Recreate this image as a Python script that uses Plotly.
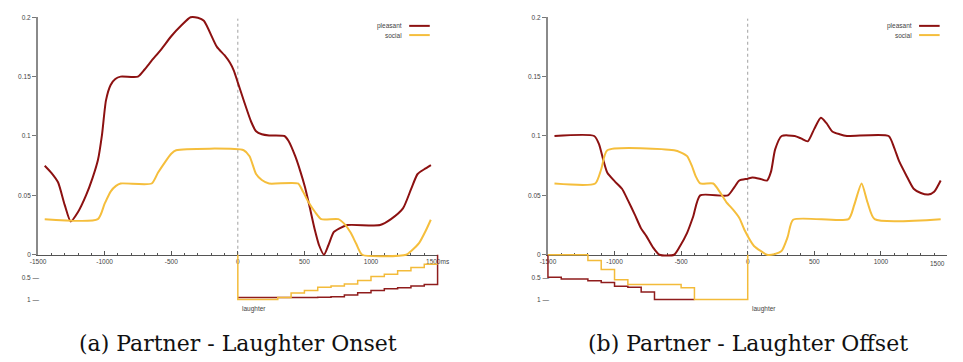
import plotly.graph_objects as go

# ---------------- data ----------------
# (a) Partner - Laughter Onset : smoothed curves
onset_pleasant_x = [-1450, -1400, -1350, -1300, -1255, -1200, -1140, -1090, -1050, -1020, -990, -955, -920,
                    -880, -750, -700, -650, -575, -500, -425, -355, -300, -255, -157, -100, -59, -30, 0,
                    50, 100, 137, 180, 235, 350, 380, 431, 470, 504, 540, 578, 610, 647, 680, 720, 760,
                    823, 1068, 1150, 1240, 1300, 1350, 1400, 1450]
onset_pleasant_y = [0.075, 0.069, 0.061, 0.042, 0.028, 0.036, 0.050, 0.065, 0.080, 0.101, 0.130, 0.143, 0.148,
                    0.150, 0.150, 0.156, 0.163, 0.173, 0.184, 0.193, 0.200, 0.1995, 0.197, 0.175, 0.168, 0.1616,
                    0.155, 0.145, 0.128, 0.112, 0.104, 0.1015, 0.1005, 0.100, 0.096, 0.083, 0.070, 0.057, 0.040,
                    0.021, 0.008, 0.0, 0.008, 0.019, 0.022, 0.025, 0.025, 0.030, 0.039, 0.055, 0.068, 0.072, 0.0755]
onset_social_x = [-1450, -1051, -1000, -954, -915, -880, -647, -600, -549, -500, -463, 44, 88, 137, 180, 235,
                  451, 490, 529, 580, 627, 755, 800, 848, 890, 934, 1265, 1300, 1362, 1410, 1449]
onset_social_y = [0.030, 0.030, 0.043, 0.0534, 0.058, 0.060, 0.060, 0.069, 0.0776, 0.085, 0.088, 0.088, 0.083,
                  0.068, 0.063, 0.060, 0.060, 0.053, 0.0446, 0.036, 0.030, 0.030, 0.026, 0.0185, 0.009, 0.0,
                  0.0, 0.003, 0.010, 0.020, 0.0295]

# (b) Partner - Laughter Offset : smoothed curves
offset_pleasant_x = [-1451, -1153, -1116, -1085, -1054, -1000, -944, -900, -847, -800, -761, -710, -663, -553,
                     -510, -455, -410, -357, -149, -100, -63, 0, 35, 90, 145, 175, 206, 255, 353, 400, 451,
                     500, 549, 590, 635, 690, 745, 1058, 1100, 1136, 1190, 1246, 1300, 1356, 1400, 1449]
offset_pleasant_y = [0.100, 0.100, 0.093, 0.080, 0.069, 0.062, 0.0556, 0.046, 0.0336, 0.022, 0.0157, 0.006,
                     0.0, 0.0, 0.007, 0.0185, 0.032, 0.050, 0.050, 0.057, 0.0625, 0.064, 0.065, 0.064, 0.0625,
                     0.070, 0.0887, 0.100, 0.100, 0.098, 0.0955, 0.106, 0.1153, 0.111, 0.1038, 0.1015, 0.100,
                     0.100, 0.090, 0.079, 0.067, 0.0556, 0.052, 0.0507, 0.053, 0.0625]
offset_social_x = [-1451, -1145, -1100, -1054, -553, -500, -455, -420, -390, -357, -259, -210, -162, -110, -63,
                   -20, 47, 100, 145, 200, 255, 300, 341, 757, 800, 855, 900, 953, 1449]
offset_social_y = [0.060, 0.060, 0.072, 0.088, 0.088, 0.086, 0.083, 0.075, 0.066, 0.060, 0.060, 0.053, 0.0446,
                   0.038, 0.031, 0.020, 0.0074, 0.003, 0.0, 0.0005, 0.0033, 0.015, 0.0295, 0.030, 0.042,
                   0.060, 0.044, 0.030, 0.030]

# lower step panels (left edges of each step, last entry is the end)
onset_step_pleasant_x = [0, 600, 700, 800, 900, 1000, 1100, 1200, 1300, 1400, 1500]
onset_step_pleasant_v = [0.95, 0.94, 0.93, 0.89, 0.84, 0.79, 0.755, 0.73, 0.69, 0.66]
onset_step_social_x = [0, 300, 400, 500, 600, 700, 800, 900, 1000, 1100, 1200, 1300, 1400, 1500]
onset_step_social_v = [0.99, 0.95, 0.85, 0.79, 0.72, 0.69, 0.65, 0.57, 0.48, 0.43, 0.355, 0.285, 0.21]

offset_step_pleasant_x = [-1500, -1400, -1200, -1100, -1000, -900, -800, -700, -400]
offset_step_pleasant_v = [0.50, 0.54, 0.578, 0.615, 0.70, 0.72, 0.825, 0.99]
offset_step_social_x = [-1500, -1200, -1100, -1000, -900, -500, -400, 0]
offset_step_social_v = [0.0, 0.125, 0.325, 0.555, 0.66, 0.73, 0.99]

x_tick_vals = [-1500, -1000, -500, 0, 500, 1000, 1500]
y_tick_vals = [0, 0.05, 0.1, 0.15, 0.2]
y_tick_text = ["0", "0.05", "0.1", "0.15", "0.2"]
lower_tick_vals = [0.5, 1]
lower_tick_text = ["0.5 \u2014", "1 \u2014"]
series_names = ["pleasant", "social"]
captions = ["(a) Partner - Laughter Onset", "(b) Partner - Laughter Offset"]

# ---------------- styling / geometry ----------------
W, H = 963, 362
RED = "#8c1111"
GOLD = "#f5be3c"
STEP_RED = "#8f1c1c"
STEP_GOLD = "#f3bb3a"
FONT = "Liberation Sans"
Y0 = 255.7         # pixel row of y = 0
YS = 1211.0        # pixels per unit (main panel)
LS = 46.0          # pixels per unit (lower panel)
XS = 204.0 / 1500  # pixels per ms
PAD = 20           # ms padding of the (invisible) data axes so lines are not clipped


def fx(p):
    return p / W


def fy(p):
    return 1 - p / H


def akey(a):
    return ("xaxis" if a[0] == "x" else "yaxis") + a[1:]


panels = [
    dict(x0=234.7, pl=(onset_pleasant_x, onset_pleasant_y), so=(onset_social_x, onset_social_y),
         spl=(onset_step_pleasant_x, onset_step_pleasant_v), sso=(onset_step_social_x, onset_step_social_v),
         axes=("x", "y", "x2", "y2", "y3"), last="1500ms", onset=True),
    dict(x0=755.4, pl=(offset_pleasant_x, offset_pleasant_y), so=(offset_social_x, offset_social_y),
         spl=(offset_step_pleasant_x, offset_step_pleasant_v), sso=(offset_step_social_x, offset_step_social_v),
         axes=("x3", "y4", "x4", "y5", "y6"), last="", onset=False),
]

fig = go.Figure()
layout = dict(width=W, height=H, margin=dict(l=0, r=0, t=0, b=0), paper_bgcolor="white",
              plot_bgcolor="rgba(0,0,0,0)", showlegend=False, shapes=[], annotations=[])

tickfont = dict(family=FONT, size=6.5, color="#444")

for i, p in enumerate(panels):
    xv, yv, xd, yd, yl = p["axes"]
    x0 = p["x0"]
    ttext = [str(v) for v in x_tick_vals]
    ttext[-1] = p["last"]
    layout[akey(xv)] = dict(domain=[fx(x0 - 1500 * XS), fx(x0 + 1500 * XS)], range=[-1500, 1500], anchor=yv,
                            showline=True, linecolor="#555", linewidth=1, ticks="inside", ticklen=4,
                            tickcolor="#555", tickvals=x_tick_vals, ticktext=ttext, tickfont=tickfont,
                            minor=dict(dtick=100, tick0=0, ticks="inside", ticklen=2, tickcolor="#555"),
                            showgrid=False, zeroline=False, fixedrange=True)
    layout[akey(yv)] = dict(domain=[fy(Y0), fy(Y0 - 0.2 * YS)], range=[0, 0.2], anchor=xv,
                            showline=True, linecolor="#8a8a8a", linewidth=2, ticks="outside", ticklen=4,
                            tickcolor="#777", tickvals=y_tick_vals, ticktext=y_tick_text, tickfont=tickfont,
                            showgrid=False, zeroline=False, fixedrange=True)
    layout[akey(xd)] = dict(domain=[fx(x0 - (1500 + PAD) * XS), fx(x0 + (1500 + PAD) * XS)],
                            range=[-1500 - PAD, 1500 + PAD], anchor=yd, visible=False, fixedrange=True)
    layout[akey(yd)] = dict(domain=[fy(Y0 + 0.004 * YS), fy(Y0 - 0.204 * YS)], range=[-0.004, 0.204],
                            anchor=xd, visible=False, fixedrange=True)
    layout[akey(yl)] = dict(domain=[fy(Y0 + 1.2 * LS), fy(Y0 - 0.04 * LS)], range=[1.2, -0.04],
                            anchor="free", position=fx(x0 - 1500 * XS + 1), ticks="", showline=False,
                            tickvals=lower_tick_vals, ticktext=lower_tick_text, tickfont=tickfont,
                            showgrid=False, zeroline=False, fixedrange=True)

    # last tick label of the right panel sits inside the page edge
    if not p["last"]:
        layout["annotations"].append(dict(x=x_tick_vals[-1], y=fy(264.7), xref=xv, yref="paper",
                                          text=str(x_tick_vals[-1]), showarrow=False, xanchor="right",
                                          yanchor="middle", font=tickfont))

    # dotted marker line at 0
    fig.add_trace(go.Scatter(x=[0, 0], y=[0, 0.1988], xaxis=xv, yaxis=yv, mode="lines",
                             line=dict(color="#a0a0a0", width=1, dash="dot"), hoverinfo="skip"))

    # lower step panel
    sx, sv = p["spl"]
    if p["onset"]:
        xs = list(sx) + [sx[-1]]
        ys = list(sv) + [sv[-1], 0]
    else:
        xs = [sx[0]] + list(sx)
        ys = [0] + list(sv) + [sv[-1]]
    fig.add_trace(go.Scatter(x=xs, y=ys, xaxis=xd, yaxis=yl, mode="lines", line_shape="hv",
                             line=dict(color=STEP_RED, width=1.5), hoverinfo="skip"))
    gx, gv = p["sso"]
    if p["onset"]:
        xs = [gx[0]] + list(gx)
        ys = [0] + list(gv) + [gv[-1]]
    else:
        xs = list(gx) + [gx[-1]]
        ys = list(gv) + [gv[-1], 0]
    fig.add_trace(go.Scatter(x=xs, y=ys, xaxis=xd, yaxis=yl, mode="lines", line_shape="hv",
                             line=dict(color=STEP_GOLD, width=1.5), hoverinfo="skip"))

    # smoothed curves
    fig.add_trace(go.Scatter(x=p["pl"][0], y=p["pl"][1], xaxis=xd, yaxis=yd, mode="lines",
                             line=dict(color=RED, width=2, shape="spline", smoothing=0.6), name="pleasant"))
    fig.add_trace(go.Scatter(x=p["so"][0], y=p["so"][1], xaxis=xd, yaxis=yd, mode="lines",
                             line=dict(color=GOLD, width=2, shape="spline", smoothing=0.6), name="social"))

    # legend: text right-aligned, line sample to its right
    lx_end = x0 + 170
    for k, (nm, col) in enumerate(zip(series_names, [RED, GOLD])):
        ly = 22.3 + 9.4 * k
        layout["annotations"].append(dict(x=fx(lx_end), y=fy(ly), xref="paper", yref="paper", text=nm,
                                          showarrow=False, xanchor="right", yanchor="middle", font=tickfont))
        layout["shapes"].append(dict(type="line", xref="paper", yref="paper", x0=fx(lx_end + 5),
                                     x1=fx(lx_end + 26), y0=fy(ly), y1=fy(ly), line=dict(color=col, width=2)))

    # "laughter" label below the step panel
    layout["annotations"].append(dict(x=0, y=fy(311), xref=xd, yref="paper", text="laughter", showarrow=False,
                                      xanchor="left", yanchor="middle", xshift=2, font=tickfont))
    # caption
    layout["annotations"].append(dict(x=fx(x0), y=fy(346), xref="paper", yref="paper", text=captions[i],
                                      showarrow=False, xanchor="center", yanchor="middle",
                                      font=dict(family="DejaVu Serif", size=22, color="#111")))

fig.update_layout(**layout)
fig.write_html("out.html", config={"displayModeBar": False},
               post_script="document.documentElement.style.margin='0';document.body.style.margin='0';"
                           "document.body.style.overflow='hidden';")
